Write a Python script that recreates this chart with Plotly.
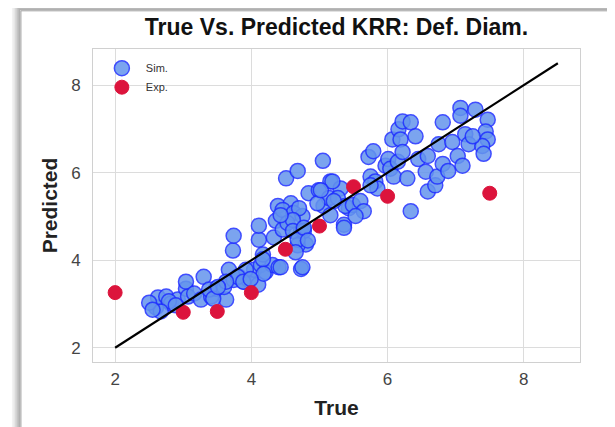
import plotly.graph_objects as go

# Simulated points (True, Predicted)
sim_true = [2.60, 2.63, 2.75, 2.82, 2.92, 2.79, 3.04, 3.04, 3.07, 3.16, 3.26, 3.30, 3.41, 3.48,
            3.63, 3.60, 3.67, 3.74, 3.82, 3.89, 3.96, 4.10, 4.04, 3.73, 3.74, 4.14, 4.21, 4.31,
            4.40, 4.11, 4.11, 4.17, 4.33, 4.39, 4.51, 4.68, 5.05, 4.36, 4.46, 4.58, 4.46, 4.62,
            4.53, 4.75, 4.73, 4.80, 4.68, 4.73, 4.84, 4.99, 5.16, 5.31, 5.06, 5.14, 5.36, 5.43,
            5.27, 5.38, 5.49, 5.60, 5.65, 5.53, 5.36, 5.72, 5.79, 5.75, 5.82, 5.85, 5.97, 6.01,
            6.04, 6.09, 6.15, 6.29, 6.07, 6.16, 6.22, 6.34, 6.19, 6.41, 6.22, 6.45, 6.59, 6.56,
            6.59, 6.70, 6.73, 6.81, 6.89, 6.75, 6.81, 6.95, 7.03, 7.10, 7.14, 7.19, 7.07, 7.07,
            7.29, 7.47, 7.44, 7.47, 7.39, 7.41, 7.25, 6.34, 3.38, 3.44, 2.50, 2.67, 2.89, 4.70,
            4.97, 4.61, 4.43, 4.61, 4.77, 4.68, 4.65, 4.75, 4.43, 4.17, 4.18, 3.92, 3.80, 3.63,
            3.88, 3.99, 3.51, 5.19, 5.02, 5.21, 5.16, 4.77, 4.83, 5.75, 2.55]
sim_pred = [2.92, 3.15, 3.17, 3.01, 3.10, 3.06, 3.35, 3.51, 3.17, 3.24, 3.10, 3.62, 3.17, 3.35,
            3.10, 3.39, 3.78, 3.55, 3.62, 3.51, 3.55, 3.44, 3.78, 4.22, 4.56, 3.89, 3.73, 3.89,
            3.84, 4.47, 4.79, 4.13, 4.52, 5.24, 5.87, 6.04, 6.27, 4.90, 4.70, 5.30, 5.15, 5.08,
            4.85, 5.01, 4.67, 4.36, 4.34, 3.80, 5.53, 5.60, 5.80, 5.64, 5.24, 5.42, 4.81, 5.19,
            5.42, 5.24, 5.26, 5.35, 5.12, 5.01, 4.74, 6.36, 6.49, 5.91, 5.80, 5.64, 6.16, 6.31,
            6.09, 5.91, 6.25, 5.87, 6.76, 6.99, 7.17, 7.15, 6.76, 6.83, 6.47, 6.31, 6.38, 6.02,
            5.57, 5.71, 5.91, 6.20, 6.04, 6.65, 7.15, 6.70, 6.38, 6.16, 6.88, 6.65, 7.48, 7.30,
            7.44, 7.21, 6.94, 6.76, 6.61, 6.43, 6.83, 5.12, 3.33, 3.12, 3.03, 2.83, 2.97, 5.19,
            5.30, 4.92, 5.03, 4.67, 4.67, 4.47, 4.18, 3.84, 3.84, 4.02, 3.69, 3.78, 3.62, 3.51,
            3.51, 3.57, 3.39, 5.80, 5.60, 5.35, 5.03, 4.74, 4.45, 5.71, 2.87]

# Experimental points
exp_true = [2.0, 3.0, 3.5, 4.0, 4.5, 5.0, 5.5, 6.0, 7.5]
exp_pred = [3.26, 2.81, 2.83, 3.26, 4.25, 4.78, 5.68, 5.46, 5.53]

# ideal line
line_xy = [2.0, 8.5]

axis_range = [1.675, 8.825]
tick_vals = [2, 4, 6, 8]

FONT = "Liberation Sans, Arial"

fig = go.Figure()

fig.add_trace(go.Scatter(
    x=sim_true, y=sim_pred, mode="markers", name="Sim.",
    marker=dict(size=15, color="#6495ED", opacity=0.85,
                line=dict(color="#1f2fff", width=1.5)),
))
fig.add_trace(go.Scatter(
    x=exp_true, y=exp_pred, mode="markers", name="Exp.",
    marker=dict(size=14, color="#DC143C", line=dict(color="#DC143C", width=1)),
))
fig.add_trace(go.Scatter(
    x=line_xy, y=line_xy, mode="lines", showlegend=False,
    line=dict(color="black", width=2.2),
))

axis_common = dict(
    range=axis_range, tickvals=tick_vals, showgrid=True, gridcolor="#dcdcdc", gridwidth=1,
    zeroline=False, showline=True, linecolor="#d0d0d0", linewidth=1, mirror=True,
    ticks="", tickfont=dict(family=FONT, size=17, color="#444444"),
)

fig.update_xaxes(**axis_common, ticklabelstandoff=2,
                 title=dict(text="<b>True</b>", standoff=11,
                            font=dict(family=FONT, size=21, color="#222222")))
fig.update_yaxes(**axis_common, ticklabelstandoff=8,
                 title=dict(text="<b>Predicted</b>", standoff=7,
                            font=dict(family=FONT, size=21, color="#222222")))

# outer frame with a soft shadow on the top/left edges
shadow = ["#f2f2f2", "#e6e6e6", "#d6d6d6", "#c4c4c4", "#b0b0b0"]
shapes = []
for i, c in enumerate(shadow):
    off = (len(shadow) - i) * 1.6
    shapes.append(dict(type="rect", xref="paper", yref="paper", layer="below",
                       x0=-0.148 - off / 487, x1=1.2, y0=-0.3, y1=1.122 + off / 319,
                       line=dict(color=c, width=2), fillcolor="rgba(0,0,0,0)"))
shapes.append(dict(type="rect", xref="paper", yref="paper", layer="below",
                   x0=-0.148, x1=1.2, y0=-0.3, y1=1.122,
                   line=dict(color="#a0a0a0", width=1), fillcolor="white"))

fig.update_layout(
    width=607, height=419,
    margin=dict(l=85, r=35, t=41, b=59),
    paper_bgcolor="white", plot_bgcolor="white",
    title=dict(text="<b>True Vs. Predicted KRR: Def. Diam.</b>", x=0.5, xanchor="center",
               xref="paper", y=0.955, yanchor="middle",
               font=dict(family=FONT, size=23, color="#111111")),
    legend=dict(x=0.01, y=0.985, xanchor="left", yanchor="top", bgcolor="rgba(0,0,0,0)",
                font=dict(family=FONT, size=11, color="#333333"),
                itemwidth=38, tracegroupgap=0),
    shapes=shapes,
)

fig.write_html("out.html")
